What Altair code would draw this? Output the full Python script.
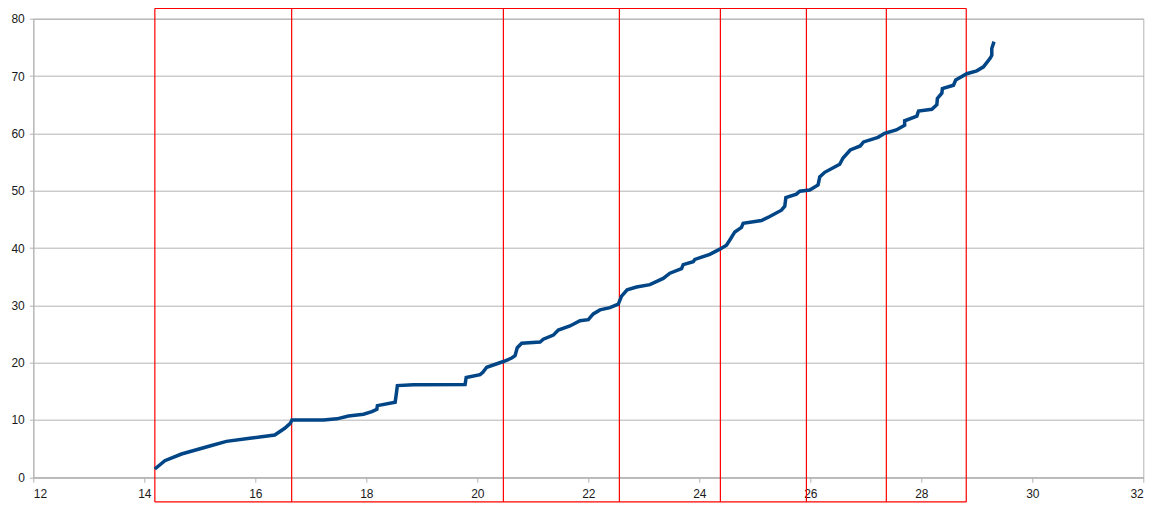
import altair as alt
import pandas as pd

# curve points (x, y)
xs = [14.19, 14.37, 14.67, 15.18, 15.48, 15.90, 16.35, 16.53, 16.63, 16.66,
      17.23, 17.47, 17.68, 17.95, 18.10, 18.19, 18.20, 18.52, 18.54, 18.56,
      18.85, 19.78, 19.80, 20.05, 20.10, 20.17, 20.47, 20.62, 20.68, 20.72,
      20.80, 21.13, 21.19, 21.37, 21.46, 21.67, 21.85, 22.00, 22.09, 22.21,
      22.39, 22.54, 22.60, 22.70, 22.87, 23.11, 23.35, 23.47, 23.68, 23.71,
      23.89, 23.92, 24.19, 24.37, 24.49, 24.55, 24.64, 24.76, 24.79, 25.12,
      25.27, 25.48, 25.54, 25.56, 25.75, 25.81, 25.99, 26.14, 26.17, 26.26,
      26.53, 26.59, 26.72, 26.90, 26.96, 27.22, 27.34, 27.55, 27.70, 27.70,
      27.92, 27.95, 28.19, 28.28, 28.29, 28.37, 28.38, 28.58, 28.62, 28.82,
      29.00, 29.12, 29.24, 29.27, 29.27, 29.31]
ys = [1.45, 2.9, 4.06, 5.46, 6.27, 6.8, 7.38, 8.55, 9.4, 10.0,
      10.0, 10.2, 10.7, 11.0, 11.45, 11.85, 12.5, 13.1, 14.5, 16.0,
      16.15, 16.2, 17.4, 17.9, 18.3, 19.2, 20.2, 20.8, 21.2, 22.6,
      23.4, 23.6, 24.1, 24.8, 25.7, 26.4, 27.3, 27.5, 28.5, 29.2,
      29.6, 30.2, 31.6, 32.7, 33.2, 33.6, 34.7, 35.6, 36.4, 37.1,
      37.6, 38.0, 38.9, 39.8, 40.5, 41.4, 42.8, 43.6, 44.3, 44.8,
      45.5, 46.6, 47.3, 48.8, 49.4, 49.9, 50.1, 51.0, 52.4, 53.2,
      54.6, 55.7, 57.1, 57.8, 58.5, 59.3, 60.0, 60.6, 61.4, 62.2,
      63.0, 63.9, 64.2, 65.0, 66.1, 67.0, 67.8, 68.4, 69.3, 70.4,
      70.9, 71.6, 73.1, 73.6, 74.8, 76.0]

# red annotation box / dividers
divider_x = [14.19, 16.655, 20.47, 22.56, 24.38, 25.93, 27.37, 28.81]
box_left, box_right = 14.19, 28.81
box_bottom, box_top = -4.3, 81.8

x_ticks = list(range(12, 33, 2))
y_ticks = list(range(0, 81, 10))

curve = pd.DataFrame({"x": xs, "y": ys, "i": range(len(xs))})
dividers = pd.DataFrame({"x": divider_x, "y": [box_bottom] * len(divider_x),
                         "y2": [box_top] * len(divider_x)})
hbox = pd.DataFrame({"x": [box_left, box_left], "x2": [box_right, box_right],
                     "y": [box_bottom, box_top]})

xscale = alt.Scale(domain=[12, 32], nice=False, zero=False)
yscale = alt.Scale(domain=[0, 80], nice=False)

grid = "#b3b3b3"
base_axis = dict(labelFont="Liberation Sans", labelFontSize=12, labelColor="#1a1a1a",
                 domainColor=grid, tickColor=grid, title=None)

line = alt.Chart(curve).mark_line(color="#004586", strokeWidth=3.5, strokeJoin="miter").encode(
    x=alt.X("x:Q", scale=xscale,
            axis=alt.Axis(values=x_ticks, grid=False, tickSize=5, labelPadding=6, **base_axis)),
    y=alt.Y("y:Q", scale=yscale,
            axis=alt.Axis(values=y_ticks, grid=True, gridColor=grid, tickSize=4,
                          labelPadding=5, **base_axis)),
    order="i:Q",
)

vrules = alt.Chart(dividers).mark_rule(color="#ff0000", strokeWidth=1.2, clip=False).encode(
    x=alt.X("x:Q", scale=xscale), y=alt.Y("y:Q", scale=yscale), y2="y2:Q")
hrules = alt.Chart(hbox).mark_rule(color="#ff0000", strokeWidth=1.2, clip=False).encode(
    x=alt.X("x:Q", scale=xscale), x2="x2:Q", y=alt.Y("y:Q", scale=yscale))

chart = alt.layer(vrules, hrules, line).properties(
    width=1110, height=458.6,
    autosize=alt.AutoSizeParams(type="none"),
    padding={"left": 25.3, "top": 10.7, "right": 10, "bottom": 25.7},
).configure_view(stroke=grid, strokeWidth=1)

chart.save("out.html", embed_options={"renderer": "svg", "actions": False})
